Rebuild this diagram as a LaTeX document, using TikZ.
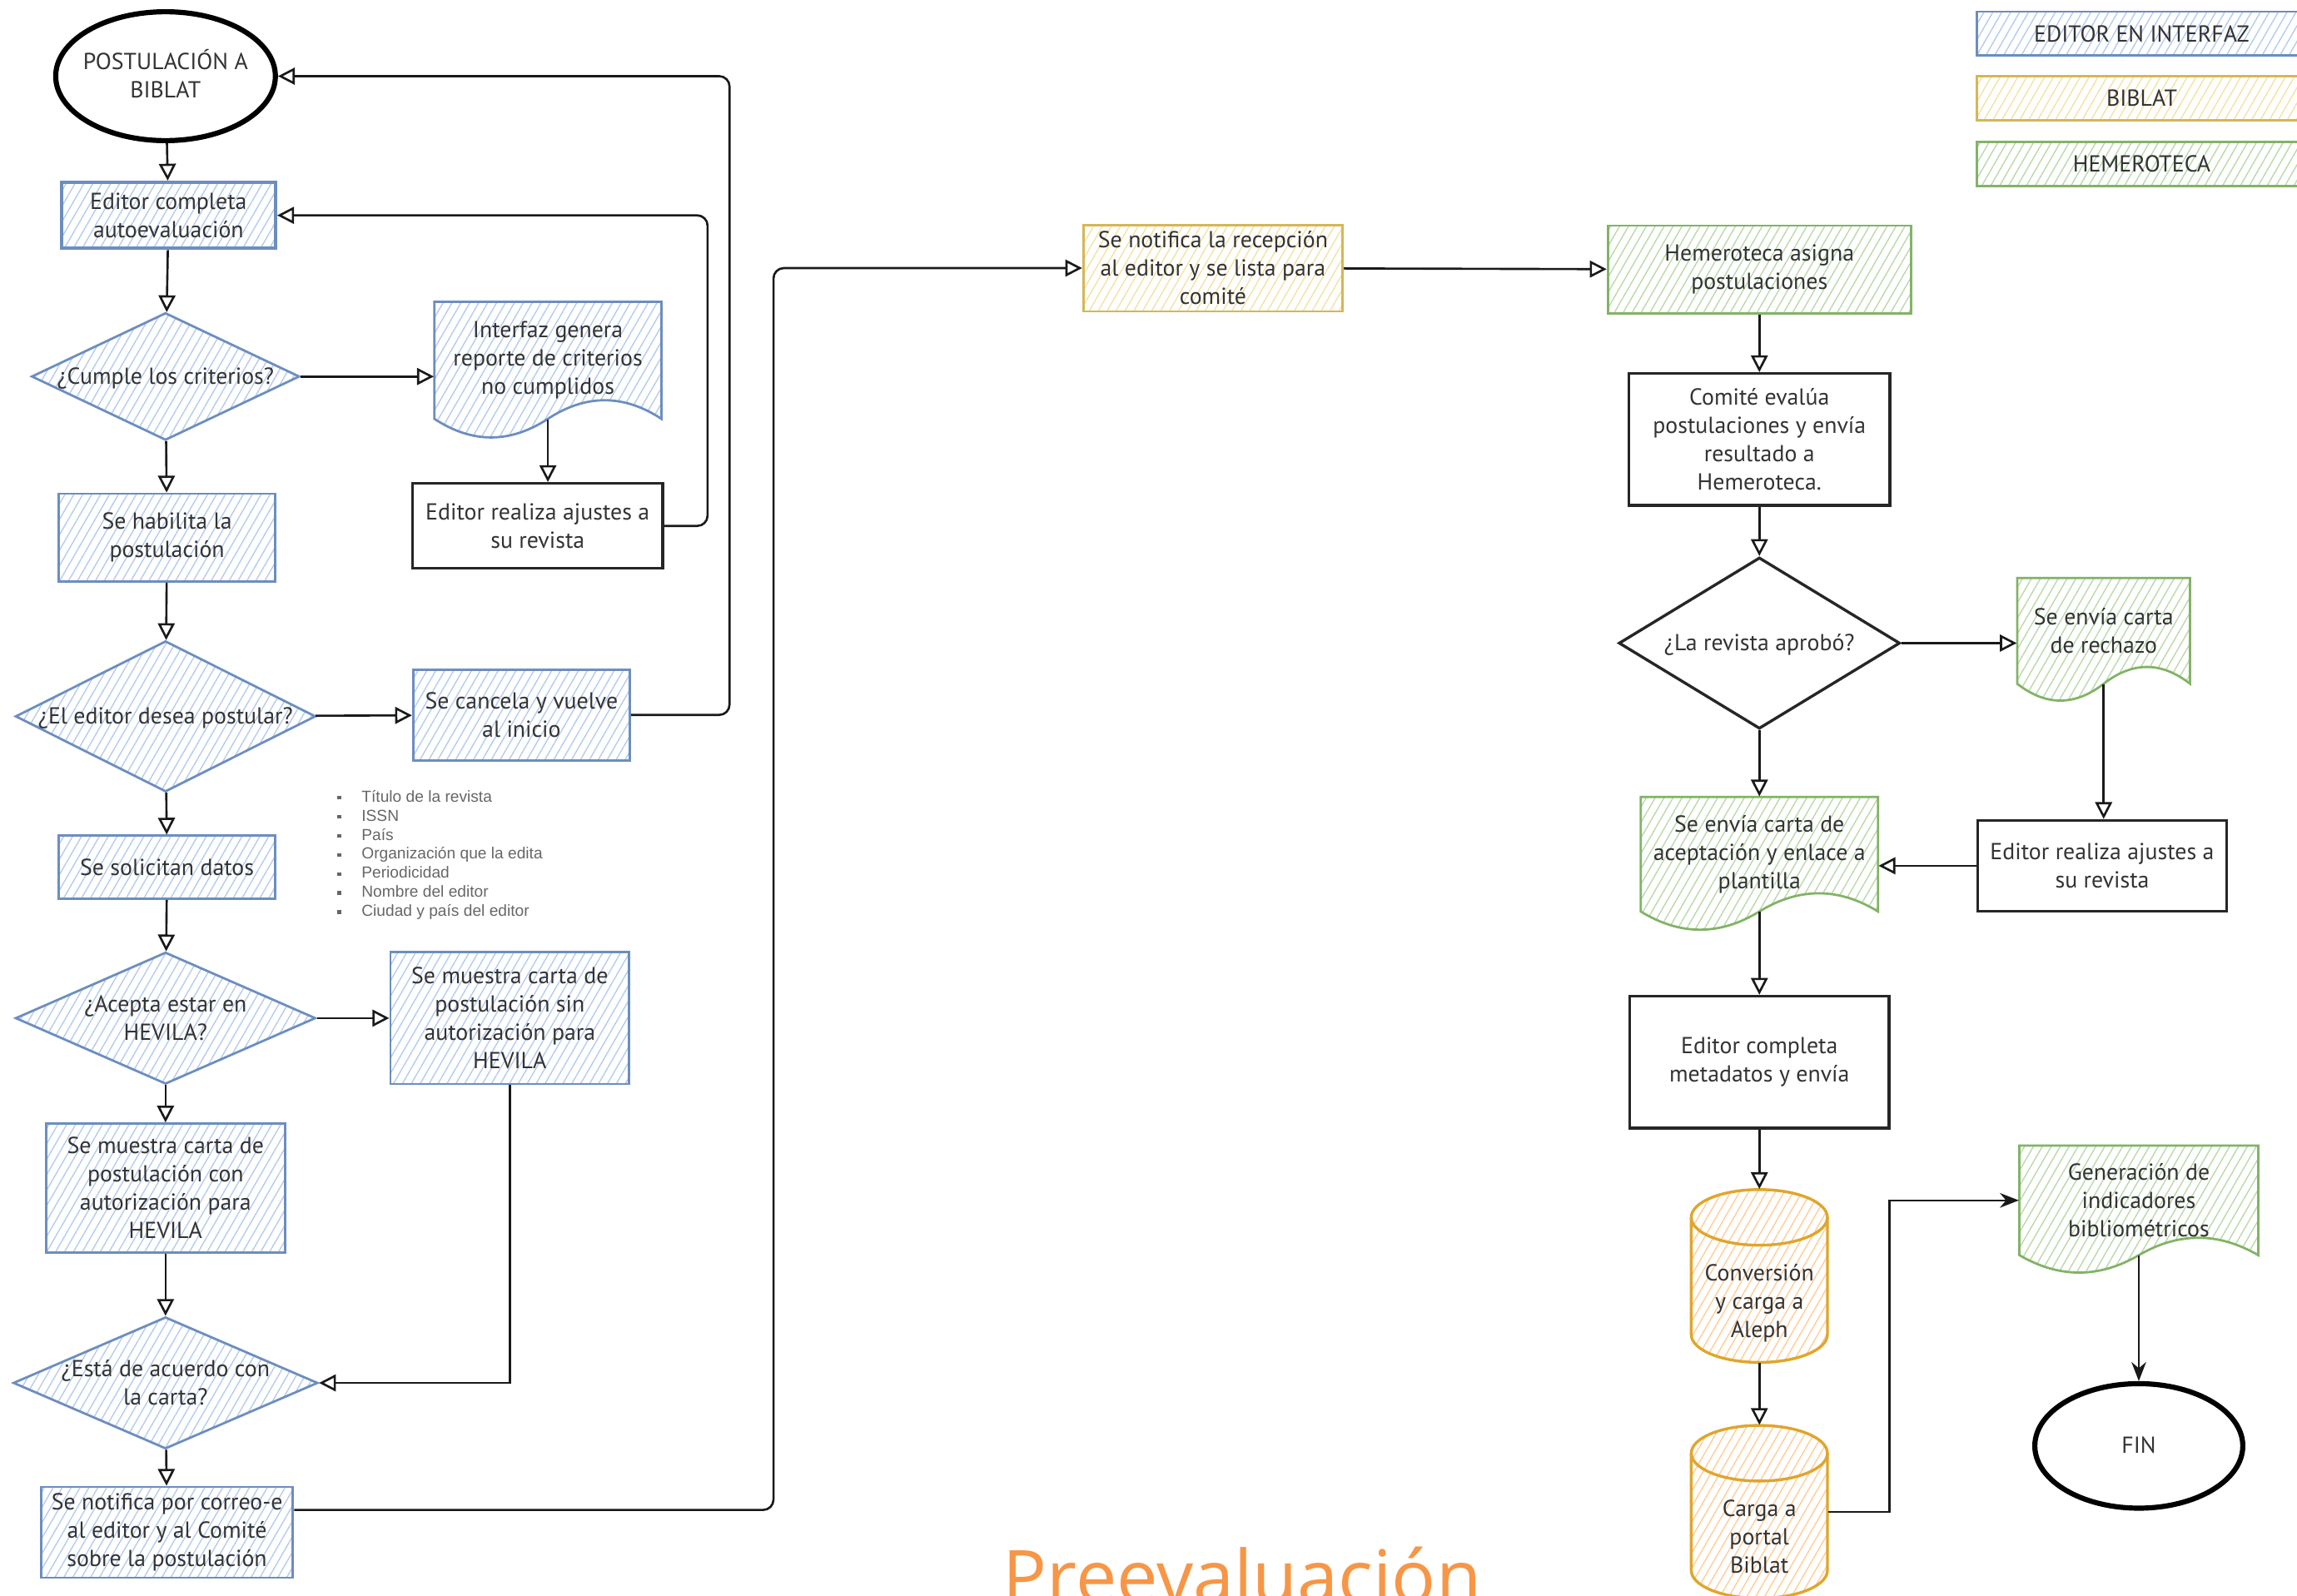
\documentclass[tikz,border=0pt]{standalone}
\usepackage{fontspec}
\setmainfont{PT Sans}
\newfontfamily\listfont{Liberation Sans}
\newfontfamily\titlefont{Open Sans}
\usepackage{tikz}
\usetikzlibrary{shapes.geometric,arrows.meta,patterns.meta,calc}

\definecolor{ink}{HTML}{333333}
\definecolor{blueline}{HTML}{6C8EBF}
\definecolor{bluehatch}{HTML}{B4CBEE}
\definecolor{yelline}{HTML}{D6B656}
\definecolor{yelhatch}{HTML}{F5E1A4}
\definecolor{greenline}{HTML}{82B366}
\definecolor{greenhatch}{HTML}{B9D9A9}
\definecolor{orline}{HTML}{E0A52C}
\definecolor{orhatch}{HTML}{FFCC99}
\definecolor{titleor}{HTML}{F79646}

\newcommand{\boxfont}{\fontsize{9}{11}\selectfont}
\newcommand{\dtext}[2][3pt]{\makebox[0pt]{\smash{\raisebox{-#1}{\begin{tabular}{@{}c@{}}#2\end{tabular}}}}}
\newcommand{\sq}{\rule[0.15em]{1.4pt}{1.4pt}}
% document shape: style, name, centre, width, height, text
\newcommand{\docnode}[6]{%
  \draw[#1] ($(#3)+({-0.5*#4},{-0.5*#5})$) -- ++(#4,0) -- ++(0,{0.85*#5})
    .. controls +({-#4/6},{-0.18*#5}) and +({#4/6},{-0.18*#5}) .. ++({-#4/2},0)
    .. controls +({-#4/6},{0.18*#5}) and +({#4/6},{0.18*#5}) .. ++({-#4/2},0) -- cycle;
  \node[txt,sz={#4}{0.85*#5}] (#2) at ($(#3)+(0,{-0.075*#5})$) {#6};}
% cylinder: name, centre, width, height, text
\newcommand{\cylnode}[5]{%
  \draw[orcyl] ($(#2)+({-#3/2},{-#4/2+19})$)
    arc[start angle=180,end angle=0,x radius={#3*0.01cm},y radius=0.38cm] -- ++(0,{#4-38})
    arc[start angle=0,end angle=-180,x radius={#3*0.01cm},y radius=0.38cm] -- cycle;
  \draw[orcyl,pattern=none] ($(#2)+({-#3/2},{-#4/2+19})$)
    arc[start angle=180,end angle=360,x radius={#3*0.01cm},y radius=0.38cm];
  \node[txt,inner sep=0pt,sz={#3}{#4}] (#1) at (#2) {\dtext[13pt]{#5}};}

\tikzset{
  hatch/.style={pattern={Lines[angle=60,distance=3pt,line width=0.45pt]},pattern color=#1},
  sz/.style 2 args={minimum width=#1*0.2mm,minimum height=#2*0.2mm},
  txt/.style={font=\boxfont,text=ink,align=center,inner sep=1pt},
  bluebox/.style={rectangle,txt,draw=blueline,line width=0.9pt,hatch=bluehatch},
  yelbox/.style={rectangle,txt,draw=yelline,line width=0.9pt,hatch=yelhatch},
  greenbox/.style={rectangle,txt,draw=greenline,line width=0.9pt,hatch=greenhatch},
  blackbox/.style={rectangle,txt,draw=black!85,line width=1.1pt,fill=white},
  bluediam/.style={diamond,txt,inner sep=0pt,draw=blueline,line width=0.9pt,hatch=bluehatch},
  blackdiam/.style={diamond,txt,inner sep=0pt,draw=black!85,line width=1.1pt,fill=white},
  bluedoc/.style={draw=blueline,line width=0.9pt,hatch=bluehatch},
  greendoc/.style={draw=greenline,line width=0.9pt,hatch=greenhatch},
  orcyl/.style={draw=orline,line width=1.1pt,hatch=orhatch},
  term/.style={ellipse,txt,inner sep=0pt,draw=black,line width=2pt,fill=white},
  arr/.style={draw=black!90,line width=0.85pt,-{Triangle[open,length=2.3mm,width=2.3mm]}},
  arrs/.style={draw=black!90,line width=0.8pt,-{Stealth[length=2.6mm,width=2mm]}}
}

\begin{document}
\begin{tikzpicture}[x=0.02cm,y=-0.02cm]
  \useasboundingbox (0,0) rectangle (1568,1089);

  % left column
  \node[term,sz={150}{88}] (start) at (113,52) {\dtext{POSTULACIÓN A\\BIBLAT}};
  \node[bluebox,line width=1.4pt,sz={146}{45}] (autoev) at (115,147) {Editor completa\\autoevaluación};
  \node[bluediam,sz={183}{87}] (cumple) at (113,257) {\dtext{¿Cumple los criterios?}};
  \docnode{bluedoc}{reporte}{374,253}{155}{94}{Interfaz genera\\reporte de criterios\\no cumplidos}
  \node[blackbox,sz={171}{58}] (ajustesA) at (367,359) {Editor realiza ajustes a\\su revista};
  \node[bluebox,sz={148}{60}] (habilita) at (114,367) {Se habilita la\\postulación};
  \node[bluediam,sz={205}{103}] (desea) at (113,489) {\dtext{¿El editor desea postular?}};
  \node[bluebox,sz={148}{62}] (cancela) at (356,488) {Se cancela y vuelve\\al inicio};
  \node[bluebox,sz={148}{43}] (solicita) at (114,592) {Se solicitan datos};
  \node[anchor=north west,inner sep=0pt,font=\listfont\fontsize{6.2}{7.4}\selectfont,text=black!60] (datos) at (230,538)
    {\begin{tabular}{@{}l@{\hspace{8pt}}l@{}}
      \sq & Título de la revista\\
      \sq & ISSN\\
      \sq & País\\
      \sq & Organización que la edita\\
      \sq & Periodicidad\\
      \sq & Nombre del editor\\
      \sq & Ciudad y país del editor
    \end{tabular}};
  \node[bluediam,sz={205}{90}] (acepta) at (113,695) {\dtext{¿Acepta estar en\\HEVILA?}};
  \node[bluebox,sz={163}{90}] (sin) at (348,695) {Se muestra carta de\\postulación sin\\autorización para\\HEVILA};
  \node[bluebox,sz={163}{88}] (con) at (113,811) {Se muestra carta de\\postulación con\\autorización para\\HEVILA};
  \node[bluediam,sz={208}{90}] (acuerdo) at (113,944) {\dtext{¿Está de acuerdo con\\la carta?}};
  \node[bluebox,sz={172}{62}] (correo) at (114,1046) {Se notifica por correo-e\\al editor y al Comité\\sobre la postulación};

  % middle and right columns
  \node[yelbox,sz={177}{59}] (recepcion) at (828,183) {Se notifica la recepción\\al editor y se lista para\\comité};
  \node[greenbox,sz={207}{60}] (asigna) at (1201,184) {Hemeroteca asigna\\postulaciones};
  \node[blackbox,sz={178}{90}] (evalua) at (1201,300) {Comité evalúa\\postulaciones y envía\\resultado a\\Hemeroteca.};
  \node[blackdiam,sz={192}{117}] (aprobo) at (1201,439) {\dtext{¿La revista aprobó?}};
  \docnode{greendoc}{rechazo}{1436,437}{118}{85}{Se envía carta\\de rechazo}
  \node[blackbox,sz={170}{62}] (ajustesB) at (1435,591) {Editor realiza ajustes a\\su revista};
  \docnode{greendoc}{aceptacion}{1201,590}{162}{92}{Se envía carta de\\aceptación y enlace a\\plantilla}
  \node[blackbox,sz={177}{90}] (metadatos) at (1201,725) {Editor completa\\metadatos y envía};
  \cylnode{aleph}{1201,871}{93}{118}{Conversión\\y carga a\\Aleph}
  \cylnode{biblat}{1201,1032}{93}{118}{Carga a\\portal\\Biblat}
  \docnode{greendoc}{generacion}{1460,826}{163}{88}{Generación de\\indicadores\\bibliométricos}
  \node[term,sz={142}{85}] (fin) at (1460,987) {\dtext{FIN}};

  % legend
  \node[bluebox,sz={225}{30}] (legeditor) at (1462,23) {EDITOR EN INTERFAZ};
  \node[yelbox,sz={225}{30}] (legbiblat) at (1462,67) {BIBLAT};
  \node[greenbox,sz={225}{30}] (leghem) at (1462,112) {HEMEROTECA};

  \node[font=\titlefont\fontsize{28.5}{30}\selectfont,text=titleor,anchor=base,inner sep=0pt] (titulo) at (848,1094) {Preevaluación};

  \coordinate (backA) at (483,147);
  \coordinate (backB) at (498,52);
  \coordinate (jumpC) at (528,183);

  \draw[arr] (start) -- (autoev);
  \draw[arr] (autoev) -- (cumple);
  \draw[arr] (cumple.east) -- (cumple.east -| reporte.west);
  \draw[arr] (reporte.south) -- (reporte.south |- ajustesA.north);
  \draw[arr,rounded corners=4pt] (ajustesA.east) -| (backA) -- (autoev.east);
  \draw[arr] (cumple) -- (habilita);
  \draw[arr] (habilita) -- (desea);
  \draw[arr] (desea) -- (cancela);
  \draw[arr,rounded corners=4pt] (cancela.east) -| (backB) -- (start.east);
  \draw[arr] (desea) -- (solicita);
  \draw[arr] (solicita) -- (acepta);
  \draw[arr] (acepta) -- (sin);
  \draw[arr] (acepta) -- (con);
  \draw[arr] (con) -- (acuerdo);
  \draw[arr] (sin.south) |- (acuerdo.east);
  \draw[arr] (acuerdo) -- (correo);
  \draw[arr,rounded corners=4pt] (correo.10) -| (jumpC) -- (recepcion.west);
  \draw[arr] (recepcion) -- (asigna);
  \draw[arr] (asigna) -- (evalua);
  \draw[arr] (evalua) -- (aprobo);
  \draw[arr] (aprobo.east) -- (aprobo.east -| rechazo.west);
  \draw[arr] (rechazo.south) -- (rechazo.south |- ajustesB.north);
  \draw[arr] (aprobo) -- (aceptacion);
  \draw[arr] (ajustesB.west) -- (ajustesB.west -| aceptacion.east);
  \draw[arr] (aceptacion) -- (metadatos);
  \draw[arr] (metadatos) -- (aleph);
  \draw[arr] (aleph) -- (biblat);
  \draw[arrs] (biblat.east) -- ++(42,0) |- (generacion.west);
  \draw[arrs] (generacion) -- (fin);
\end{tikzpicture}
\end{document}
